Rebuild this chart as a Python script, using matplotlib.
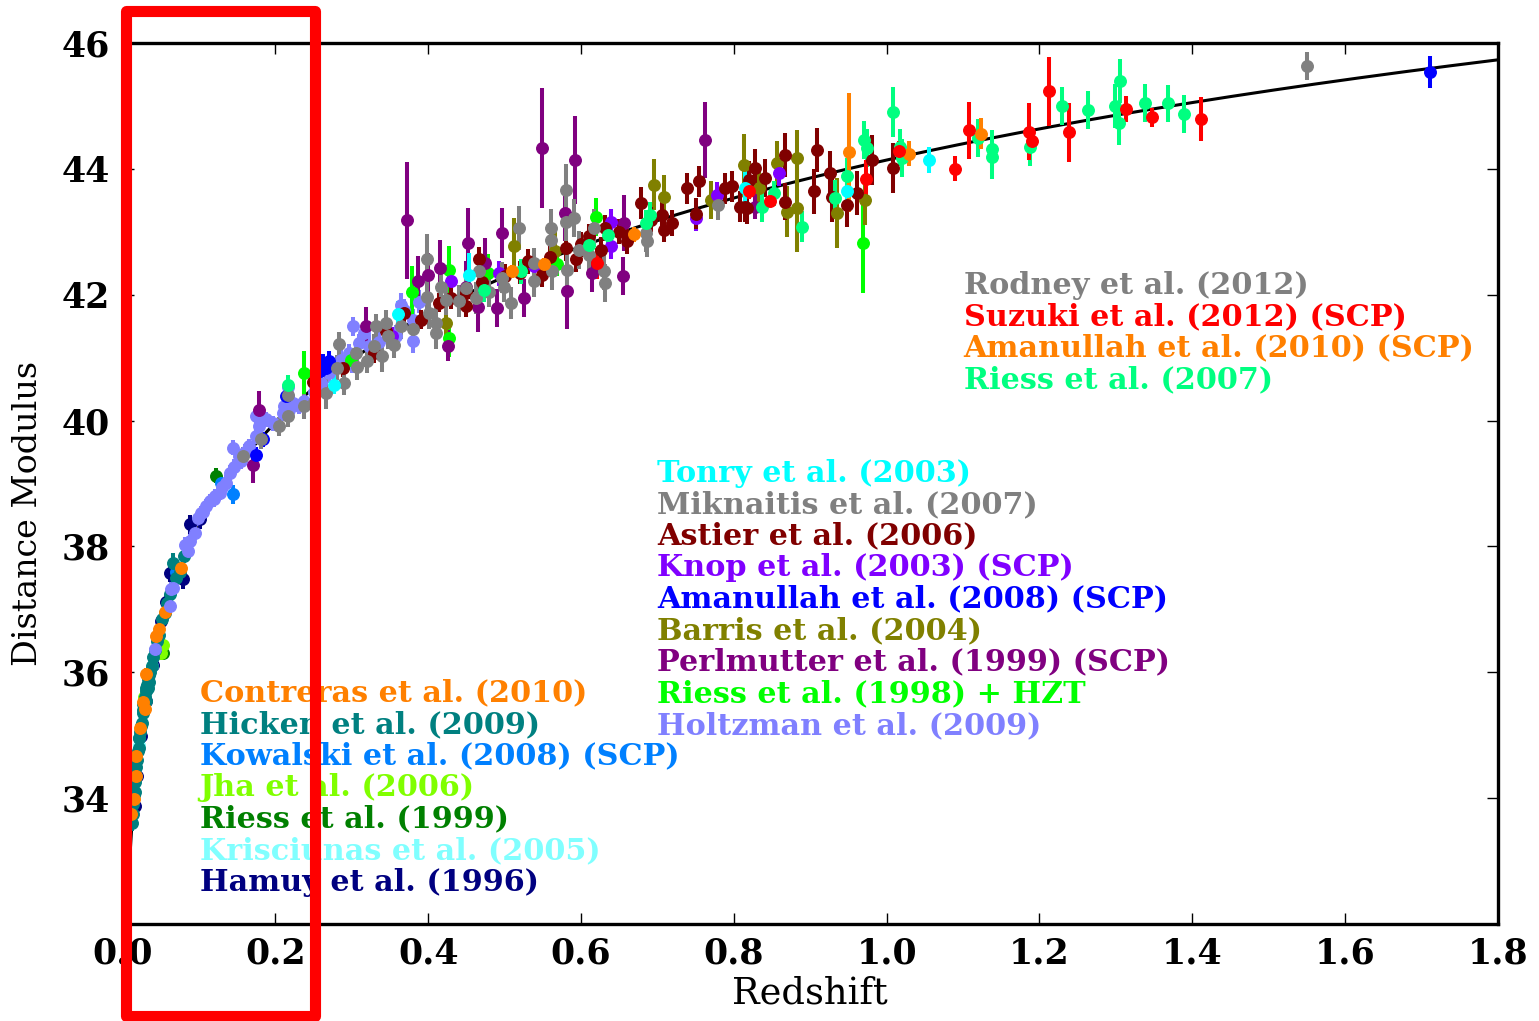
import numpy as np
import matplotlib
matplotlib.use("Agg")
import matplotlib.pyplot as plt
from matplotlib.patches import Rectangle

# ---------------------------------------------------------------- data ----
hamuy_z   = [0.0157, 0.0185, 0.024, 0.031, 0.0395, 0.0506, 0.057, 0.0614, 0.0789, 0.0876, 0.1007]
hamuy_mu  = [33.88, 34.35, 34.98, 35.55, 36.12, 36.81, 37.12, 37.58, 37.48, 38.35, 38.43]
hamuy_err = [0.12, 0.12, 0.12, 0.12, 0.12, 0.12, 0.12, 0.15, 0.15, 0.15, 0.15]

kris_z   = [0.021, 0.028, 0.038]
kris_mu  = [34.85, 35.45, 36.10]
kris_err = [0.10, 0.10, 0.10]

riess99_z   = [0.0525, 0.1225]
riess99_mu  = [36.31, 39.12]
riess99_err = [0.10, 0.12]

jha_z   = [0.015, 0.0285, 0.0506, 0.0527]
jha_mu  = [34.10, 35.60, 36.31, 36.44]
jha_err = [0.12, 0.12, 0.12, 0.12]

kowalski_z   = [0.070, 0.129, 0.1442]
kowalski_mu  = [37.60, 39.00, 38.83]
kowalski_err = [0.15, 0.12, 0.15]

hicken_z = [0.012, 0.013, 0.014, 0.015, 0.016, 0.0165, 0.017, 0.018,
            0.019, 0.020, 0.021, 0.0215, 0.022, 0.023, 0.024, 0.025, 0.026, 0.0265,
            0.027, 0.028, 0.029, 0.030, 0.0305, 0.031, 0.032, 0.033, 0.0335, 0.034,
            0.035, 0.036, 0.038, 0.040, 0.042, 0.045, 0.048, 0.052, 0.055, 0.058,
            0.062, 0.0658, 0.070, 0.075, 0.080]
hicken_mu = [33.60, 33.75, 33.90, 34.05, 34.25, 34.10, 34.35, 34.50,
             34.60, 34.75, 34.80, 34.95, 34.95, 35.05, 35.15, 35.20, 35.35, 35.50,
             35.40, 35.45, 35.60, 35.70, 35.55, 35.75, 35.80, 35.90, 35.75, 35.95,
             35.85, 36.00, 36.10, 36.25, 36.35, 36.50, 36.60, 36.85, 36.95, 37.10,
             37.25, 37.74, 37.50, 37.60, 37.85]
hicken_err = [0.12] * 39 + [0.15, 0.12, 0.12, 0.12]

contreras_z   = [0.0105, 0.0144, 0.017, 0.0179, 0.0231, 0.0265, 0.0288, 0.031, 0.0431, 0.0475, 0.0558, 0.0767]
contreras_mu  = [33.75, 33.98, 34.35, 34.67, 35.12, 35.52, 35.41, 35.97, 36.57, 36.69, 36.96, 37.66]
contreras_err = [0.10] * 12

holtzman_z = [0.0418, 0.0614, 0.0637, 0.0659, 0.081, 0.0854, 0.0876, 0.0941, 0.098, 0.1029,
              0.105, 0.1094, 0.1137, 0.12, 0.1203, 0.1268, 0.13, 0.1355, 0.1399, 0.1442,
              0.1464, 0.1529, 0.155, 0.16, 0.166, 0.1748, 0.1748, 0.179, 0.1791, 0.1878,
              0.1965, 0.2096, 0.2118, 0.216, 0.2183, 0.2227, 0.2314, 0.2379, 0.25, 0.26,
              0.27, 0.2859, 0.2967, 0.30, 0.301, 0.3098, 0.3163, 0.3229, 0.335, 0.3578,
              0.3643, 0.3686, 0.3795, 0.3795, 0.3882]
holtzman_mu = [36.37, 37.05, 37.32, 37.34, 38.03, 37.93, 38.08, 38.22, 38.45, 38.53,
               38.55, 38.64, 38.72, 38.75, 38.80, 38.85, 38.95, 39.01, 39.17, 39.57,
               39.27, 39.43, 39.35, 39.50, 39.59, 39.75, 40.07, 40.04, 39.91, 40.02,
               39.96, 40.12, 40.23, 40.54, 40.17, 40.28, 40.23, 40.31, 40.45, 40.60,
               40.75, 40.97, 41.07, 40.90, 41.50, 41.23, 41.39, 41.18, 41.25, 41.34,
               41.84, 41.75, 41.26, 41.60, 41.89]
holtzman_err = [0.12] * 38 + [0.15] * 8 + [0.18] * 9

riess98_z   = [0.238, 0.299, 0.3787, 0.4275, 0.4275, 0.478, 0.569, 0.619, 0.969]
riess98_mu  = [40.76, 40.97, 42.05, 42.40, 41.31, 42.34, 42.49, 43.23, 42.82]
riess98_err = [0.34, 0.15, 0.40, 0.38, 0.30, 0.30, 0.20, 0.30, 0.80]

perlmutter_z = [0.170, 0.179, 0.3186, 0.3725, 0.387, 0.400, 0.4153, 0.4253, 0.4514, 0.450,
                0.4645, 0.4745, 0.4898, 0.497, 0.5255, 0.5494, 0.579, 0.5813, 0.5918, 0.6148,
                0.656, 0.655, 0.7621, 0.828]
perlmutter_mu = [39.30, 40.17, 41.50, 43.18, 42.21, 42.32, 42.42, 41.19, 42.82, 42.13,
                 41.81, 42.50, 41.79, 42.98, 41.95, 44.33, 43.30, 42.06, 44.14, 42.34,
                 43.14, 42.30, 44.46, 43.40]
perlmutter_err = [0.30, 0.30, 0.30, 0.93, 0.40, 0.35, 0.45, 0.25, 0.55, 0.40,
                  0.40, 0.40, 0.30, 0.40, 0.30, 0.95, 0.45, 0.60, 0.70, 0.30,
                  0.45, 0.30, 0.60, 0.20]

barris_z   = [0.423, 0.512, 0.5664, 0.6954, 0.7085, 0.7695, 0.813, 0.8327, 0.857, 0.8693,
              0.8827, 0.8827, 0.935, 0.9712]
barris_mu  = [41.55, 42.77, 42.69, 43.75, 43.56, 43.51, 44.06, 43.69, 44.09, 43.32,
              44.17, 43.38, 43.30, 43.51]
barris_err = [0.30, 0.45, 0.30, 0.40, 0.35, 0.30, 0.50, 0.30, 0.35, 0.40,
              0.45, 0.70, 0.55, 0.40]

amanullah08_z   = [0.1748, 0.1834, 0.214, 0.258, 0.262, 0.266, 0.270, 1.711]
amanullah08_mu  = [39.46, 39.70, 40.39, 40.78, 40.90, 40.84, 40.95, 45.54]
amanullah08_err = [0.12, 0.12, 0.12, 0.15, 0.15, 0.15, 0.15, 0.25]

knop_z   = [0.353, 0.430, 0.493, 0.5386, 0.639, 0.639, 0.750, 0.778, 0.859]
knop_mu  = [41.34, 42.21, 42.34, 42.45, 43.16, 42.77, 43.22, 43.59, 43.93]
knop_err = [0.15, 0.20, 0.20, 0.20, 0.20, 0.20, 0.20, 0.20, 0.20]

astier_z = [0.2488, 0.288, 0.329, 0.3447, 0.3686, 0.39, 0.4144, 0.43, 0.449, 0.449,
            0.4667, 0.47, 0.50, 0.520, 0.530, 0.5494, 0.56, 0.580, 0.593, 0.60,
            0.6105, 0.6257, 0.632, 0.65, 0.66, 0.678, 0.691, 0.706, 0.7085, 0.7194,
            0.739, 0.75, 0.754, 0.789, 0.797, 0.8087, 0.815, 0.817, 0.82, 0.828,
            0.841, 0.8676, 0.8676, 0.9046, 0.909, 0.926, 0.928, 0.948, 0.961, 0.981,
            1.008]
astier_mu = [40.62, 40.84, 41.07, 41.42, 41.71, 41.60, 41.87, 41.95, 42.03, 41.82,
             42.56, 42.20, 42.30, 42.35, 42.53, 42.32, 42.60, 42.74, 42.56, 42.80,
             42.93, 42.71, 43.06, 43.00, 42.85, 43.46, 43.19, 43.27, 43.03, 43.14,
             43.69, 43.29, 43.80, 43.69, 43.72, 43.40, 43.40, 43.37, 43.83, 44.01,
             43.85, 43.48, 44.22, 43.64, 44.30, 43.93, 43.56, 43.43, 43.61, 44.14,
             44.01]
astier_err = [0.15, 0.15, 0.15, 0.15, 0.15, 0.15, 0.15, 0.18, 0.18, 0.18,
              0.20, 0.18, 0.18, 0.18, 0.20, 0.20, 0.20, 0.20, 0.20, 0.20,
              0.20, 0.20, 0.20, 0.20, 0.20, 0.25, 0.20, 0.20, 0.20, 0.20,
              0.25, 0.25, 0.25, 0.25, 0.25, 0.25, 0.25, 0.25, 0.30, 0.30,
              0.30, 0.30, 0.35, 0.35, 0.35, 0.35, 0.40, 0.35, 0.35, 0.40,
              0.40]

miknaitis_z = [0.157, 0.181, 0.205, 0.216, 0.216, 0.238, 0.25, 0.266, 0.281, 0.2837,
               0.29, 0.305, 0.307, 0.32, 0.329, 0.331, 0.340, 0.345, 0.347, 0.355,
               0.364, 0.38, 0.399, 0.399, 0.401, 0.41, 0.41, 0.4166, 0.4231, 0.44,
               0.45, 0.462, 0.4667, 0.48, 0.497, 0.499, 0.508, 0.519, 0.5386, 0.5386,
               0.5604, 0.5604, 0.5624, 0.580, 0.580, 0.582, 0.591, 0.597, 0.6105, 0.617,
               0.630, 0.632, 0.6846, 0.6866, 0.779]
miknaitis_mu = [39.43, 39.70, 39.91, 40.41, 40.07, 40.23, 40.30, 40.44, 40.84, 41.21,
                40.60, 41.07, 40.85, 40.95, 41.18, 41.50, 41.02, 41.55, 41.34, 41.20,
                41.50, 41.45, 41.97, 42.56, 41.71, 41.39, 41.55, 42.13, 41.92, 41.90,
                42.10, 41.95, 42.37, 42.05, 42.27, 42.13, 41.87, 43.06, 42.50, 42.21,
                43.06, 42.87, 42.37, 43.67, 43.16, 42.40, 43.22, 42.71, 42.63, 43.06,
                42.37, 42.19, 42.98, 42.85, 43.43]
miknaitis_err = [0.15, 0.15, 0.15, 0.18, 0.18, 0.20, 0.20, 0.25, 0.20, 0.20,
                 0.20, 0.20, 0.20, 0.20, 0.20, 0.20, 0.25, 0.20, 0.20, 0.20,
                 0.20, 0.20, 0.25, 0.40, 0.25, 0.25, 0.25, 0.25, 0.25, 0.25,
                 0.25, 0.25, 0.25, 0.25, 0.25, 0.25, 0.25, 0.35, 0.25, 0.25,
                 0.30, 0.30, 0.30, 0.40, 0.30, 0.30, 0.30, 0.30, 0.25, 0.30,
                 0.30, 0.30, 0.30, 0.25, 0.25]

tonry_z   = [0.277, 0.36, 0.4536, 0.815, 0.948, 1.056]
tonry_mu  = [40.57, 41.70, 42.32, 43.69, 43.64, 44.14]
tonry_err = [0.15, 0.20, 0.35, 0.35, 0.30, 0.20]

riess07_z = [0.216, 0.473, 0.522, 0.611, 0.635, 0.685, 0.6897, 0.837, 0.852, 0.889,
             0.933, 0.948, 0.970, 0.974, 1.008, 1.018, 1.020, 1.120, 1.138, 1.138,
             1.188, 1.229, 1.263, 1.299, 1.304, 1.305, 1.338, 1.369, 1.389]
riess07_mu = [40.57, 42.08, 42.37, 42.79, 42.95, 43.14, 43.27, 43.40, 43.61, 43.08,
              43.53, 43.88, 44.46, 44.33, 44.90, 44.34, 44.17, 44.49, 44.31, 44.19,
              44.35, 45.00, 44.94, 45.00, 44.73, 45.40, 45.05, 45.04, 44.87]
riess07_err = [0.15, 0.20, 0.20, 0.20, 0.20, 0.20, 0.20, 0.25, 0.20, 0.25,
               0.30, 0.30, 0.30, 0.30, 0.40, 0.30, 0.30, 0.30, 0.30, 0.35,
               0.30, 0.30, 0.30, 0.35, 0.35, 0.35, 0.30, 0.30, 0.30]

amanullah10_z   = [0.510, 0.552, 0.669, 0.951, 1.029, 1.123]
amanullah10_mu  = [42.37, 42.49, 42.96, 44.26, 44.24, 44.56]
amanullah10_err = [0.10, 0.10, 0.12, 0.95, 0.20, 0.25]

suzuki_z   = [0.621, 0.820, 0.848, 0.973, 1.016, 1.090, 1.108, 1.187, 1.190, 1.213,
              1.239, 1.313, 1.348, 1.412]
suzuki_mu  = [42.50, 43.64, 43.49, 43.84, 44.29, 44.00, 44.61, 44.59, 44.45, 45.23,
              44.58, 44.95, 44.82, 44.79]
suzuki_err = [0.25, 0.12, 0.10, 0.30, 0.15, 0.20, 0.45, 0.45, 0.20, 0.55,
              0.47, 0.20, 0.15, 0.35]

rodney_z   = [1.55]
rodney_mu  = [45.63]
rodney_err = [0.22]

# (label, colour, z, mu, err) in drawing order
samples = [
    ("Hamuy et al. (1996)",               "#000080", hamuy_z, hamuy_mu, hamuy_err),
    ("Krisciunas et al. (2005)",          "#80FFFF", kris_z, kris_mu, kris_err),
    ("Riess et al. (1999)",               "#008000", riess99_z, riess99_mu, riess99_err),
    ("Jha et al. (2006)",                 "#80FF00", jha_z, jha_mu, jha_err),
    ("Kowalski et al. (2008) (SCP)",      "#0080FF", kowalski_z, kowalski_mu, kowalski_err),
    ("Hicken et al. (2009)",              "#008080", hicken_z, hicken_mu, hicken_err),
    ("Contreras et al. (2010)",           "#FF8000", contreras_z, contreras_mu, contreras_err),
    ("Holtzman et al. (2009)",            "#8080FF", holtzman_z, holtzman_mu, holtzman_err),
    ("Riess et al. (1998) + HZT",         "#00FF00", riess98_z, riess98_mu, riess98_err),
    ("Perlmutter et al. (1999) (SCP)",    "#800080", perlmutter_z, perlmutter_mu, perlmutter_err),
    ("Barris et al. (2004)",              "#808000", barris_z, barris_mu, barris_err),
    ("Amanullah et al. (2008) (SCP)",     "#0000FF", amanullah08_z, amanullah08_mu, amanullah08_err),
    ("Knop et al. (2003) (SCP)",          "#8000FF", knop_z, knop_mu, knop_err),
    ("Astier et al. (2006)",              "#800000", astier_z, astier_mu, astier_err),
    ("Miknaitis et al. (2007)",           "#808080", miknaitis_z, miknaitis_mu, miknaitis_err),
    ("Tonry et al. (2003)",               "#00FFFF", tonry_z, tonry_mu, tonry_err),
    ("Riess et al. (2007)",               "#00FF80", riess07_z, riess07_mu, riess07_err),
    ("Amanullah et al. (2010) (SCP)",     "#FF8000", amanullah10_z, amanullah10_mu, amanullah10_err),
    ("Suzuki et al. (2012) (SCP)",        "#FF0000", suzuki_z, suzuki_mu, suzuki_err),
    ("Rodney et al. (2012)",              "#808080", rodney_z, rodney_mu, rodney_err),
]
colour_of = {name: col for name, col, *_ in samples}

# text key, three blocks
key_high = ["Rodney et al. (2012)", "Suzuki et al. (2012) (SCP)",
            "Amanullah et al. (2010) (SCP)", "Riess et al. (2007)"]
key_mid = ["Tonry et al. (2003)", "Miknaitis et al. (2007)", "Astier et al. (2006)",
           "Knop et al. (2003) (SCP)", "Amanullah et al. (2008) (SCP)", "Barris et al. (2004)",
           "Perlmutter et al. (1999) (SCP)", "Riess et al. (1998) + HZT", "Holtzman et al. (2009)"]
key_low = ["Contreras et al. (2010)", "Hicken et al. (2009)", "Kowalski et al. (2008) (SCP)",
           "Jha et al. (2006)", "Riess et al. (1999)", "Krisciunas et al. (2005)",
           "Hamuy et al. (1996)"]

x_ticks = [0.0, 0.2, 0.4, 0.6, 0.8, 1.0, 1.2, 1.4, 1.6, 1.8]
y_ticks = [34, 36, 38, 40, 42, 44, 46]

# flat LambdaCDM model line
H0 = 70.0
OMEGA_M = 0.27
C_KMS = 299792.458


def distance_modulus(z):
    grid = np.linspace(0.0, z.max(), 4000)
    inv_e = 1.0 / np.sqrt(OMEGA_M * (1 + grid) ** 3 + (1 - OMEGA_M))
    dc = np.concatenate([[0.0], np.cumsum(0.5 * (inv_e[1:] + inv_e[:-1]) * np.diff(grid))])
    dc = np.interp(z, grid, dc) * C_KMS / H0
    dl = (1 + z) * dc
    return 5 * np.log10(dl * 1e6 / 10.0)


# ---------------------------------------------------------------- plot ----
plt.rcParams["font.family"] = ["DejaVu Serif"]

fig = plt.figure(figsize=(15.39, 10.21), dpi=100)
ax = fig.add_axes([0.0797, 0.095, 0.8935, 0.8629])

zc = np.linspace(0.004, 1.8, 600)
ax.plot(zc, distance_modulus(zc), color="black", lw=2.2, zorder=1)

for name, col, z, mu, err in samples:
    ax.errorbar(z, mu, yerr=err, fmt="o", color=col, ecolor=col, ms=8.3,
                mec=col, elinewidth=2.9, capsize=0, zorder=2)

ax.set_xlim(0.0, 1.8)
ax.set_ylim(32.0, 46.0)
ax.set_xticks(x_ticks)
ax.set_xticklabels([f"{t:.1f}" for t in x_ticks])
ax.set_yticks(y_ticks)
ax.set_yticklabels([str(t) for t in y_ticks])
ax.tick_params(direction="in", length=8, width=1, top=True, right=True,
               labelsize=25, pad=9)
for lab in ax.get_xticklabels() + ax.get_yticklabels():
    lab.set_fontweight("bold")
for sp in ax.spines.values():
    sp.set_linewidth(2.4)

ax.set_xlabel("Redshift", fontsize=26.5)
ax.set_ylabel("Distance Modulus", fontsize=24)
ax.xaxis.set_label_coords(0.5, -0.058)
ax.yaxis.set_label_coords(-0.057, 0.466)


def draw_key(names, x0, y0, step=0.0358):
    for i, nm in enumerate(names):
        ax.text(x0, y0 - i * step, nm, color=colour_of[nm], transform=ax.transAxes,
                fontsize=21.8, fontweight="bold", ha="left", va="center", zorder=5)


draw_key(key_high, 0.6115, 0.7253)
draw_key(key_mid, 0.3885, 0.5119)
draw_key(key_low, 0.0559, 0.2622)

# highlight frame over the low-redshift strip
W, H = 1539.0, 1021.0
fig.add_artist(Rectangle((126 / W, 1 - 1016 / H), (315 - 126) / W, (1016 - 11) / H,
                         transform=fig.transFigure, fill=False, ec="#FF0000",
                         lw=8, joinstyle="round", zorder=20, clip_on=False))

fig.savefig("out.png", dpi=100)
